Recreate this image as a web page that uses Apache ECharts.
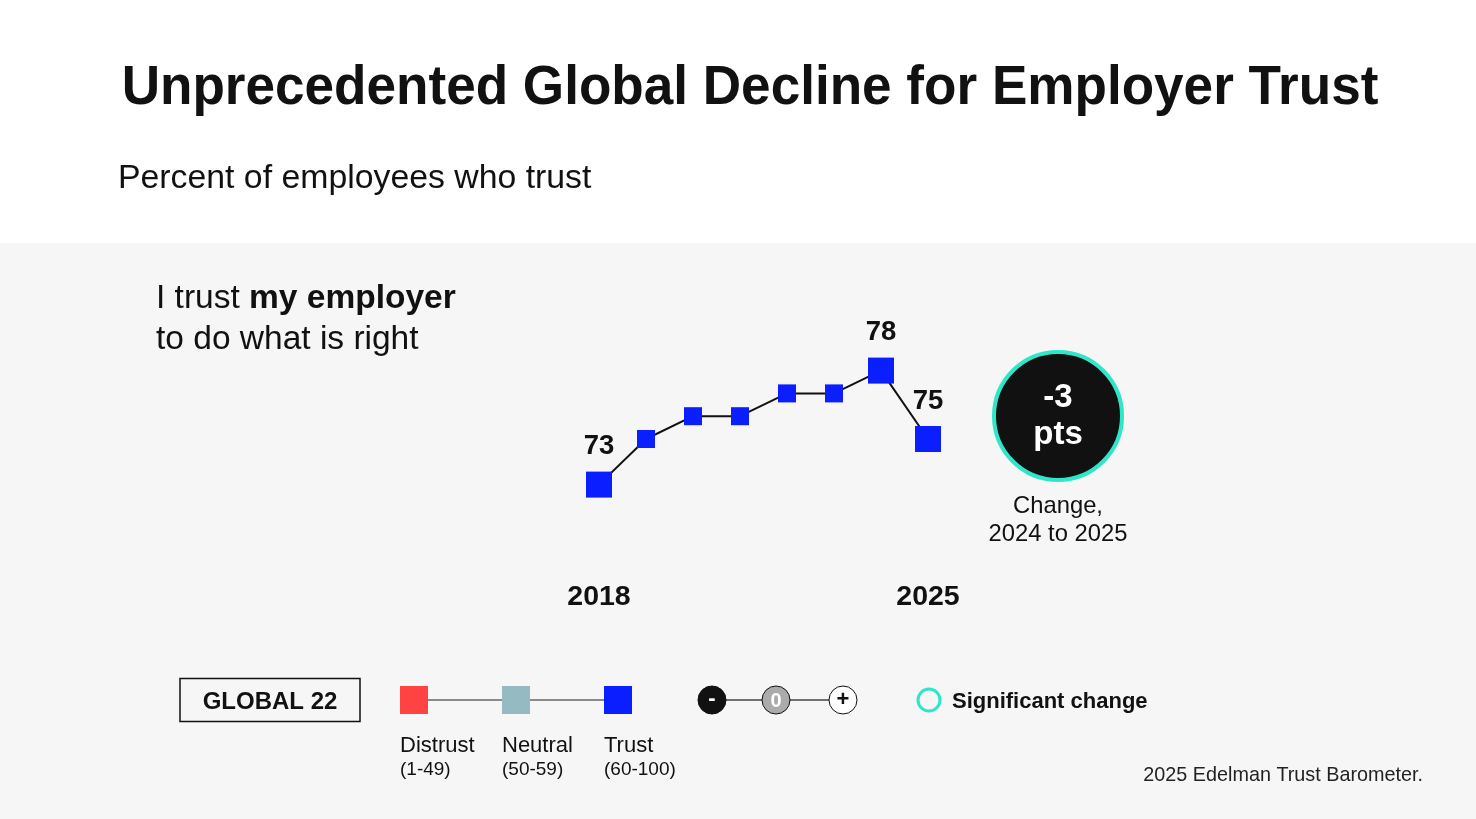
<!DOCTYPE html>
<html>
<head>
<meta charset="utf-8">
<script src="https://cdn.jsdelivr.net/npm/echarts@6/dist/echarts.min.js"></script>
<style>
html,body{margin:0;padding:0;background:#fff;}
#chart{width:1476px;height:819px;}
</style>
</head>
<body>
<div id="chart"></div>
<script>
// ---- data ----
const years = ['2018','2019','2020','2021','2022','2023','2024','2025'];
const trustValues = [73, 75, 76, 76, 77, 77, 78, 75];
const labeledYears = ['2018','2024','2025'];
const changeText = ['-3', 'pts'];
const changeCaption = ['Change,', '2024 to 2025'];
const titleText = 'Unprecedented Global Decline for Employer Trust';
const subtitleText = 'Percent of employees who trust';
const legendCats = ['Distrust', 'Neutral', 'Trust'];
const legendRanges = ['(1-49)', '(50-59)', '(60-100)'];
const regionText = 'GLOBAL 22';
const sourceText = '2025 Edelman Trust Barometer.';

const FONT = '"Liberation Sans", Arial, Helvetica, sans-serif';
const BLUE = '#0A1EFF';
const TEAL = '#2EE6C8';
const legendColors = ['#FF4242', '#96BAC1', BLUE];

const chart = echarts.init(document.getElementById('chart'));

const seriesData = trustValues.map((v, i) => {
  const big = labeledYears.includes(years[i]);
  return {
    value: v,
    symbolSize: big ? 26 : 18,
    label: { show: big }
  };
});

const graphics = [];
// gray panel
graphics.push({ type: 'rect', z: -10, shape: { x: 0, y: 243, width: 1476, height: 576 }, style: { fill: '#F6F6F6' } });
// title
graphics.push({ type: 'text', x: 750, y: 89, scaleX: 0.948, style: { text: titleText, font: 'bold 56px ' + FONT, fill: '#111', align: 'center', verticalAlign: 'middle' } });
graphics.push({ type: 'text', x: 118, y: 179, style: { text: subtitleText, font: '33.8px ' + FONT, fill: '#111', align: 'left', verticalAlign: 'middle' } });
// question
graphics.push({ type: 'text', x: 156, y: 299, style: { text: '{n|I trust }{b|my employer}', align: 'left', verticalAlign: 'middle', rich: { n: { font: '33.5px ' + FONT, fill: '#111' }, b: { font: 'bold 33.5px ' + FONT, fill: '#111' } } } });
graphics.push({ type: 'text', x: 156, y: 340, style: { text: 'to do what is right', font: '33.5px ' + FONT, fill: '#111', align: 'left', verticalAlign: 'middle' } });
// change circle
graphics.push({ type: 'circle', shape: { cx: 1058, cy: 416, r: 64 }, style: { fill: '#111', stroke: TEAL, lineWidth: 4 } });
graphics.push({ type: 'text', x: 1058, y: 398, style: { text: changeText[0], font: 'bold 33px ' + FONT, fill: '#fff', align: 'center', verticalAlign: 'middle' } });
graphics.push({ type: 'text', x: 1058, y: 435, style: { text: changeText[1], font: 'bold 33px ' + FONT, fill: '#fff', align: 'center', verticalAlign: 'middle' } });
graphics.push({ type: 'text', x: 1058, y: 506, style: { text: changeCaption[0], font: '23.8px ' + FONT, fill: '#111', align: 'center', verticalAlign: 'middle' } });
graphics.push({ type: 'text', x: 1058, y: 534, style: { text: changeCaption[1], font: '23.8px ' + FONT, fill: '#111', align: 'center', verticalAlign: 'middle' } });
// legend: region box
graphics.push({ type: 'rect', shape: { x: 180, y: 678.5, width: 180, height: 43 }, style: { fill: 'none', stroke: '#111', lineWidth: 1.5 } });
graphics.push({ type: 'text', x: 270, y: 702, style: { text: regionText, font: 'bold 24px ' + FONT, fill: '#111', align: 'center', verticalAlign: 'middle' } });
// legend: color scale
graphics.push({ type: 'line', shape: { x1: 428, y1: 700, x2: 604, y2: 700 }, style: { stroke: '#666', lineWidth: 1.5 } });
legendColors.forEach((c, i) => {
  const x = 400 + i * 102;
  graphics.push({ type: 'rect', shape: { x: x, y: 686, width: 28, height: 28 }, style: { fill: c } });
  graphics.push({ type: 'text', x: x, y: 746, style: { text: legendCats[i], font: '22px ' + FONT, fill: '#111', align: 'left', verticalAlign: 'middle' } });
  graphics.push({ type: 'text', x: x, y: 770, style: { text: legendRanges[i], font: '19px ' + FONT, fill: '#111', align: 'left', verticalAlign: 'middle' } });
});
// legend: change indicators
graphics.push({ type: 'line', shape: { x1: 712, y1: 700, x2: 843, y2: 700 }, style: { stroke: '#444', lineWidth: 1.5 } });
graphics.push({ type: 'circle', shape: { cx: 712, cy: 700, r: 14 }, style: { fill: '#111', stroke: '#111', lineWidth: 1 } });
graphics.push({ type: 'text', x: 712, y: 699, style: { text: '-', font: 'bold 22px ' + FONT, fill: '#fff', align: 'center', verticalAlign: 'middle' } });
graphics.push({ type: 'circle', shape: { cx: 776, cy: 700, r: 14 }, style: { fill: '#ABABAB', stroke: '#111', lineWidth: 1 } });
graphics.push({ type: 'text', x: 776, y: 701, style: { text: '0', font: 'bold 20px ' + FONT, fill: '#fff', align: 'center', verticalAlign: 'middle' } });
graphics.push({ type: 'circle', shape: { cx: 843, cy: 700, r: 14 }, style: { fill: '#fff', stroke: '#111', lineWidth: 1 } });
graphics.push({ type: 'text', x: 843, y: 700, style: { text: '+', font: 'bold 22px ' + FONT, fill: '#111', align: 'center', verticalAlign: 'middle' } });
// significant change
graphics.push({ type: 'circle', shape: { cx: 929, cy: 700, r: 11 }, style: { fill: 'none', stroke: TEAL, lineWidth: 3 } });
graphics.push({ type: 'text', x: 952, y: 702, style: { text: 'Significant change', font: 'bold 22px ' + FONT, fill: '#111', align: 'left', verticalAlign: 'middle' } });
// source
graphics.push({ type: 'text', x: 1423, y: 776, style: { text: sourceText, font: '19.8px ' + FONT, fill: '#222', align: 'right', verticalAlign: 'middle' } });

chart.setOption({
  animation: false,
  backgroundColor: '#fff',
  grid: { left: 599, top: 325, width: 329, height: 228 },
  xAxis: {
    type: 'category',
    data: years,
    boundaryGap: false,
    axisLine: { show: false },
    axisTick: { show: false },
    splitLine: { show: false },
    axisLabel: {
      interval: (i) => i === 0 || i === years.length - 1,
      margin: 30,
      fontFamily: FONT,
      fontSize: 28.5,
      fontWeight: 'bold',
      color: '#111'
    }
  },
  yAxis: {
    type: 'value',
    min: 70,
    max: 80,
    show: false,
    splitLine: { show: false }
  },
  series: [{
    type: 'line',
    data: seriesData,
    symbol: 'rect',
    itemStyle: { color: BLUE },
    lineStyle: { color: '#111', width: 2 },
    label: {
      position: 'top',
      distance: 11,
      fontFamily: FONT,
      fontSize: 27.5,
      fontWeight: 'bold',
      color: '#111'
    },
    z: 3
  }],
  graphic: graphics
});
</script>
</body>
</html>
